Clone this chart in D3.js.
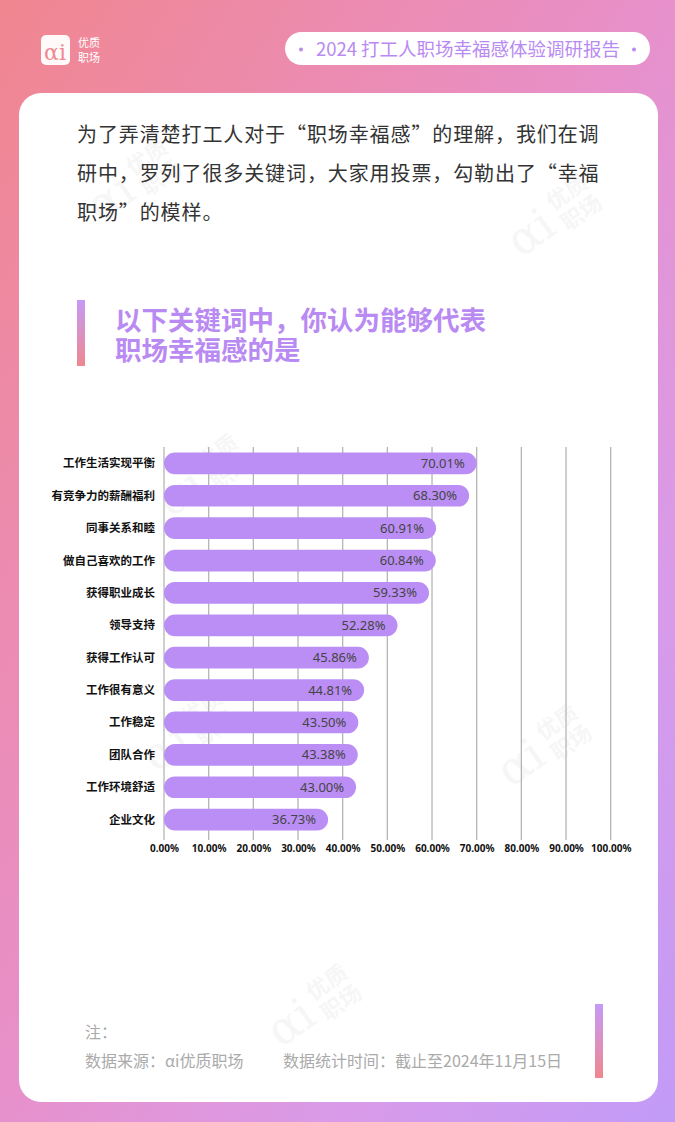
<!DOCTYPE html>
<html><head><meta charset="utf-8">
<script src="https://cdn.jsdelivr.net/npm/d3@7"></script>
<style>html,body{margin:0;padding:0;width:675px;height:1122px;overflow:hidden;}</style>
</head><body><svg id="c" width="675" height="1122"></svg>
<script>
const categories = ["工作生活实现平衡","有竞争力的薪酬福利","同事关系和睦","做自己喜欢的工作","获得职业成长","领导支持","获得工作认可","工作很有意义","工作稳定","团队合作","工作环境舒适","企业文化"];
const values = [70.01,68.30,60.91,60.84,59.33,52.28,45.86,44.81,43.50,43.38,43.00,36.73];
const tickValues = [0,10,20,30,40,50,60,70,80,90,100];
const introLines = ["为了弄清楚打工人对于“职场幸福感”的理解，我们在调","研中，罗列了很多关键词，大家用投票，勾勒出了“幸福","职场”的模样。"];
const titleLines = ["以下关键词中，你认为能够代表","职场幸福感的是"];
const headerTitle = "2024 打工人职场幸福感体验调研报告";
const footNote = "注：";
const footSource = "数据来源：αi优质职场";
const footTime = "数据统计时间：截止至2024年11月15日";

const font = "'Noto Sans CJK SC','Noto Sans',sans-serif";
const svg = d3.select("#c");
const defs = svg.append("defs");
const bg = defs.append("linearGradient").attr("id","bg").attr("x1","0").attr("y1","0").attr("x2","1").attr("y2","1");
bg.append("stop").attr("offset","0").attr("stop-color","#f0868f");
bg.append("stop").attr("offset","0.45").attr("stop-color","#e98fc6");
bg.append("stop").attr("offset","0.75").attr("stop-color","#d99be9");
bg.append("stop").attr("offset","1").attr("stop-color","#c19bf7");
const vg = defs.append("linearGradient").attr("id","vg").attr("x1","0").attr("y1","0").attr("x2","0").attr("y2","1");
vg.append("stop").attr("offset","0").attr("stop-color","#c59af7");
vg.append("stop").attr("offset","1").attr("stop-color","#f0878f");

svg.append("rect").attr("width",675).attr("height",1122).attr("fill","url(#bg)");
svg.append("rect").attr("x",19).attr("y",93).attr("width",639).attr("height",1009).attr("rx",22).attr("fill","#fff");

// logo
const logo = svg.append("g");
logo.append("rect").attr("x",41).attr("y",35).attr("width",29).attr("height",30).attr("rx",5).attr("fill","#fff").attr("opacity",0.95);
logo.append("text").attr("x",55).attr("y",60).attr("text-anchor","middle").attr("font-family","'DejaVu Serif',serif").attr("font-size",22).attr("fill","#ee8a92").text("αi");
logo.append("text").attr("x",78).attr("y",47).attr("font-family",font).attr("font-size",11).attr("fill","#fff").text("优质");
logo.append("text").attr("x",78).attr("y",62).attr("font-family",font).attr("font-size",11).attr("fill","#fff").text("职场");

// header pill
svg.append("rect").attr("x",285).attr("y",32).attr("width",365).attr("height",33).attr("rx",16.5).attr("fill","#fff");
svg.append("text").attr("x",468).attr("y",56).attr("text-anchor","middle").attr("font-family",font).attr("font-size",18.5).attr("fill","#b98af2").text(headerTitle);
svg.append("g").selectAll("circle").data([301,634]).join("circle").attr("cx",d=>d).attr("cy",49.5).attr("r",2).attr("fill","#b98af2");

// watermarks
const wm = [[135,175],[555,210],[190,725],[545,740],[315,1000],[205,470]];
wm.forEach(([x,y])=>{
  const g = svg.append("g").attr("transform",`translate(${x},${y}) rotate(-35)`).attr("opacity",0.06).attr("fill","#777");
  g.append("text").attr("x",-10).attr("y",20).attr("font-family","'DejaVu Serif',serif").attr("font-size",46).attr("text-anchor","end").text("αi");
  g.append("text").attr("x",-2).attr("y",0).attr("font-family",font).attr("font-weight",700).attr("font-size",22).text("优质");
  g.append("text").attr("x",-2).attr("y",25).attr("font-family",font).attr("font-weight",700).attr("font-size",22).text("职场");
});

// intro text
svg.append("g").selectAll("text").data(introLines).join("text")
  .attr("x",77).attr("y",(d,i)=>142+i*39)
  .attr("font-family",font).attr("font-size",20).attr("letter-spacing",0.9).attr("fill","#333").text(d=>d);

// title
svg.append("rect").attr("x",77).attr("y",300).attr("width",8).attr("height",66).attr("fill","url(#vg)");
svg.append("g").selectAll("text").data(titleLines).join("text")
  .attr("x",115).attr("y",(d,i)=>330+i*29.5)
  .attr("font-family",font).attr("font-size",26.5).attr("font-weight",700).attr("fill","#b98af2").text(d=>d);

// chart
const x = d3.scaleLinear().domain([0,100]).range([164,610.7]);
const y = d3.scaleBand().domain(categories).range([447,836]).paddingInner(0.33).paddingOuter(0.17);
const chart = svg.append("g");
chart.append("g").selectAll("line").data(tickValues).join("line")
  .attr("x1",d=>x(d)).attr("x2",d=>x(d)).attr("y1",447).attr("y2",840)
  .attr("stroke",d=>d===0?"#cfcfcf":"#b5b5b5").attr("stroke-width",d=>d===0?2:1.3);
const bh = y.bandwidth();
chart.append("g").selectAll("rect").data(values).join("rect")
  .attr("x",x(0)).attr("y",(d,i)=>y(categories[i]))
  .attr("width",d=>x(d)-x(0)).attr("height",bh).attr("rx",bh/2)
  .attr("fill","#bb8ef5");
chart.append("g").selectAll("text").data(values).join("text")
  .attr("x",d=>x(d)-12).attr("y",(d,i)=>y(categories[i])+bh/2+4.5)
  .attr("text-anchor","end").attr("font-family","'Noto Sans',sans-serif").attr("font-size",13).attr("fill","#444")
  .text(d=>d.toFixed(2)+"%");
chart.append("g").selectAll("text").data(categories).join("text")
  .attr("x",155).attr("y",d=>y(d)+bh/2+4)
  .attr("text-anchor","end").attr("font-family",font).attr("font-size",11.5).attr("font-weight",700).attr("fill","#111")
  .text(d=>d);
const axis = d3.axisBottom(x).tickValues(tickValues).tickSize(0).tickFormat(d=>d.toFixed(2)+"%");
const ag = chart.append("g").attr("transform","translate(0,842)").call(axis);
ag.select(".domain").remove();
ag.selectAll("text").attr("font-family","'Noto Sans',sans-serif").attr("font-size",10).attr("font-weight",700).attr("fill","#111");

// footer
svg.append("text").attr("x",85).attr("y",1038).attr("font-family",font).attr("font-size",16).attr("fill","#aaa").text(footNote);
svg.append("text").attr("x",85).attr("y",1067).attr("font-family",font).attr("font-size",16).attr("fill","#aaa").text(footSource);
svg.append("text").attr("x",283).attr("y",1067).attr("font-family",font).attr("font-size",16).attr("fill","#aaa").text(footTime);
svg.append("rect").attr("x",595).attr("y",1004).attr("width",8).attr("height",74).attr("fill","url(#vg)");
</script></body></html>
